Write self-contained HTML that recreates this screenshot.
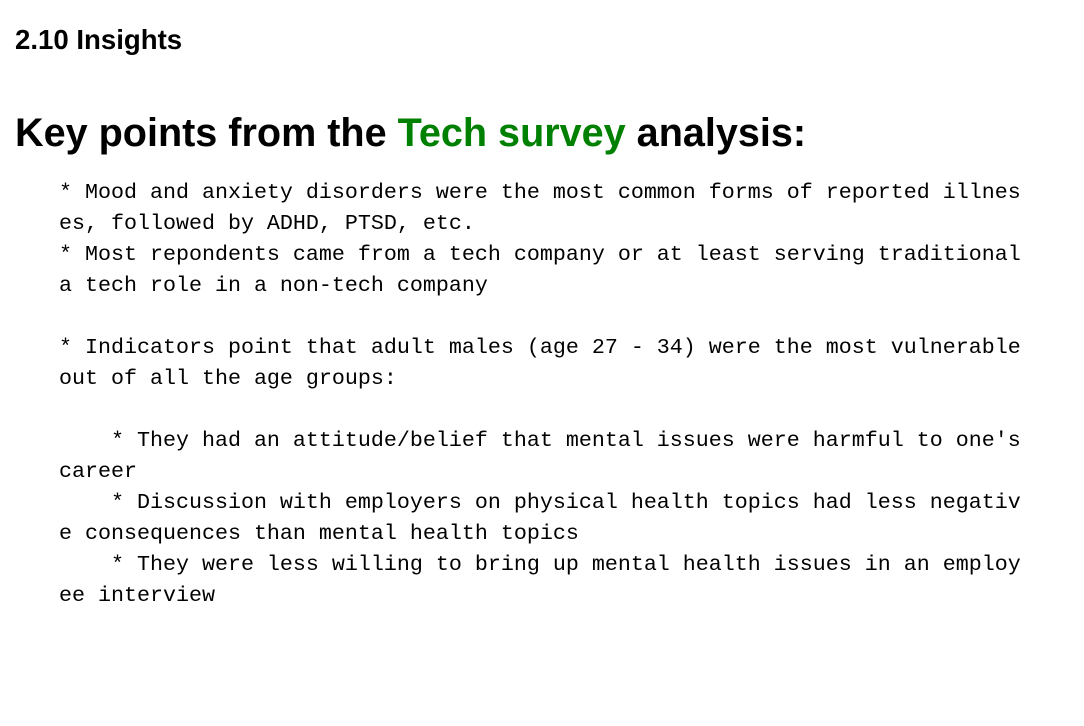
<!DOCTYPE html>
<html>
<head>
<meta charset="utf-8">
<style>
  html, body { margin: 0; padding: 0; background: #fff; width: 1084px; height: 726px; overflow: hidden; }
  .h3 { position: absolute; left: 15px; top: 24px; font-family: "Liberation Sans", sans-serif; font-weight: bold; font-size: 27.6px; color: #000; margin: 0; }
  .h1 { position: absolute; left: 15px; top: 111px; font-family: "Liberation Sans", sans-serif; font-weight: bold; font-size: 39.6px; color: #000; margin: 0; white-space: nowrap; }
  .h1 .green { color: #008000; }
  pre { position: absolute; left: 59px; top: 177px; margin: 0; font-family: "Liberation Mono", monospace; font-size: 21.67px; line-height: 31px; color: #000; }
</style>
</head>
<body>
<div class="h3">2.10 Insights</div>
<div class="h1">Key points from the <span class="green">Tech survey</span> analysis:</div>
<pre>* Mood and anxiety disorders were the most common forms of reported illnes
es, followed by ADHD, PTSD, etc.
* Most repondents came from a tech company or at least serving traditional
a tech role in a non-tech company

* Indicators point that adult males (age 27 - 34) were the most vulnerable
out of all the age groups:

    * They had an attitude/belief that mental issues were harmful to one's
career
    * Discussion with employers on physical health topics had less negativ
e consequences than mental health topics
    * They were less willing to bring up mental health issues in an employ
ee interview</pre>
</body>
</html>
